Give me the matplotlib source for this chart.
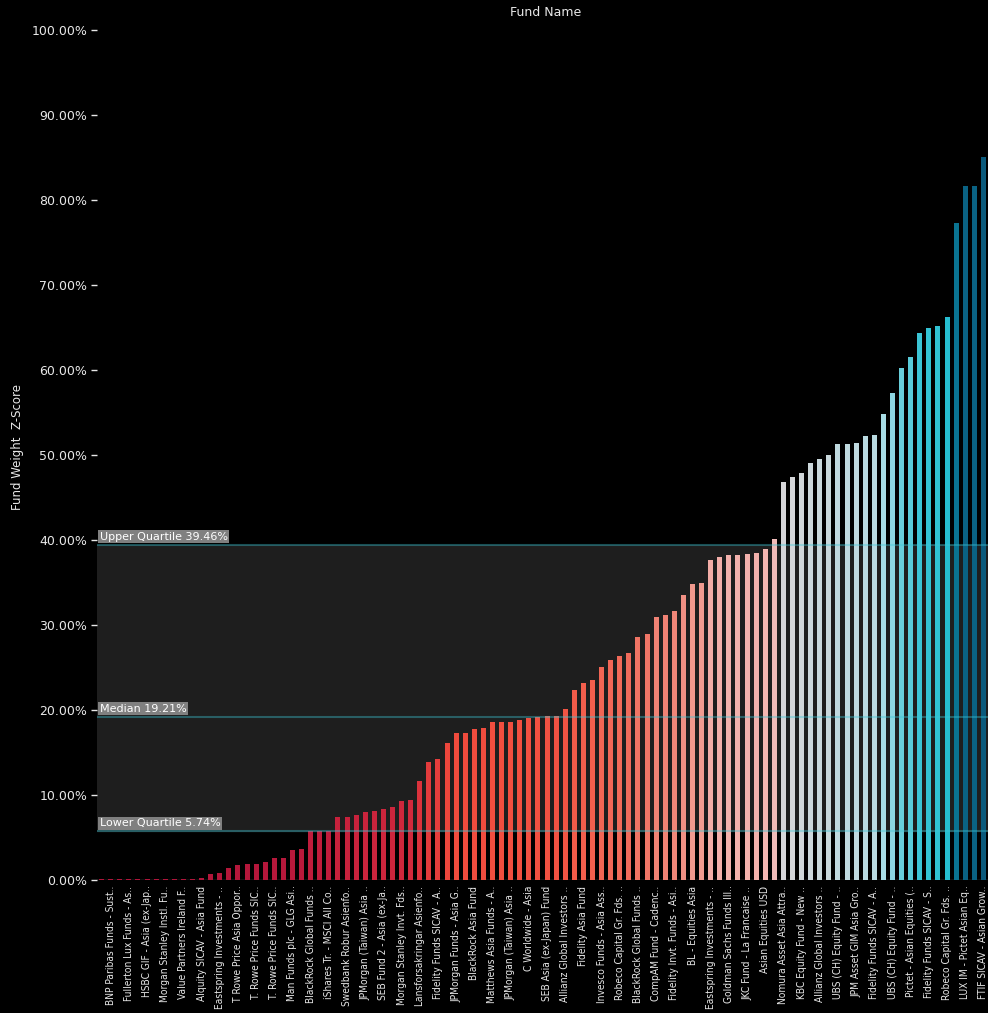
import numpy as np
import matplotlib
matplotlib.use("Agg")
import matplotlib.pyplot as plt
from matplotlib.colors import LinearSegmentedColormap
from matplotlib.ticker import FuncFormatter
import matplotlib.transforms as mtransforms

# fund weights (%) sorted ascending, 98 funds
weights = [
    0.12, 0.12, 0.12, 0.12, 0.12, 0.12, 0.12, 0.12, 0.12, 0.12,
    0.12, 0.27, 0.71, 0.86, 1.41, 1.76, 1.88, 1.88, 2.12, 2.59,
    2.59, 3.53, 3.65, 5.74, 5.74, 5.74, 7.41, 7.41, 7.65, 8.00,
    8.12, 8.35, 8.59, 9.29, 9.41, 11.65, 13.88, 14.24, 16.12, 17.30,
    17.30, 17.76, 17.88, 18.59, 18.59, 18.59, 18.82, 19.06, 19.13, 19.29,
    19.29, 20.12, 22.35, 23.18, 23.53, 25.06, 25.88, 26.35, 26.70, 28.59,
    28.94, 30.94, 31.18, 31.65, 33.53, 34.82, 34.94, 37.65, 38.00, 38.24,
    38.24, 38.35, 38.47, 38.94, 40.12, 46.82, 47.41, 47.88, 49.06, 49.53,
    50.00, 51.30, 51.30, 51.40, 52.20, 52.30, 54.80, 57.30, 60.20, 61.50,
    64.30, 64.90, 65.20, 66.20, 77.30, 81.60, 81.60, 85.00,
]

# only every other fund name is shown on the axis
fund_labels = [
    "BNP Paribas Funds - Sust..", "Fullerton Lux Funds - As..",
    "HSBC GIF - Asia (ex-Jap..", "Morgan Stanley Instl. Fu..",
    "Value Partners Ireland F..", "Alquity SICAV - Asia Fund",
    "Eastspring Investments - ..", "T Rowe Price Asia Oppor..",
    "T. Rowe Price Funds SIC..", "T. Rowe Price Funds SIC..",
    "Man Funds plc - GLG Asi..", "BlackRock Global Funds ..",
    "iShares Tr. - MSCI All Co..", "Swedbank Robur Asienfo..",
    "JPMorgan (Taiwan) Asia ..", "SEB Fund 2 - Asia (ex-Ja..",
    "Morgan Stanley Invt. Fds..", "Lansforsakringar Asienfo..",
    "Fidelity Funds SICAV - A..", "JPMorgan Funds - Asia G..",
    "BlackRock Asia Fund", "Matthews Asia Funds - A..",
    "JPMorgan (Taiwan) Asia ..", "C Worldwide - Asia",
    "SEB Asia (ex-Japan) Fund", "Allianz Global Investors ..",
    "Fidelity Asia Fund", "Invesco Funds - Asia Ass..",
    "Robeco Capital Gr. Fds. ..", "BlackRock Global Funds ..",
    "CompAM Fund - Cadenc..", "Fidelity Invt. Funds - Asi..",
    "BL - Equities Asia", "Eastspring Investments - ..",
    "Goldman Sachs Funds III..", "JKC Fund - La Francaise ..",
    "Asian Equities USD", "Nomura Asset Asia Attra..",
    "KBC Equity Fund - New ..", "Allianz Global Investors ..",
    "UBS (CH) Equity Fund - ..", "JPM Asset GIM Asia Gro..",
    "Fidelity Funds SICAV - A..", "UBS (CH) Equity Fund - ..",
    "Pictet - Asian Equities (..", "Fidelity Funds SICAV - S..",
    "Robeco Capital Gr. Fds. ..", "LUX IM - Pictet Asian Eq..",
    "FTIF SICAV - Asian Grow..",
]

quartiles = [("Lower Quartile", 5.74), ("Median", 19.21), ("Upper Quartile", 39.46)]

# colour ramp by weight
stops = [0, 6, 10, 17, 22, 28, 34, 39, 45, 50, 55, 60, 66, 72, 80, 85]
cols = ["#b0153a", "#c01c3c", "#d42b3c", "#f04a3c", "#f25a48", "#f07060",
        "#f09488", "#f4b6b2", "#ddd3d5", "#c8d8dc", "#a8dde6", "#6ccfdc",
        "#28c0d2", "#0a8ca6", "#0a6686", "#0b5a7c"]
cmap = LinearSegmentedColormap.from_list(
    "fund", list(zip(np.array(stops) / stops[-1], cols)))

txt = "#e8e8e8"
plt.rcParams["font.family"] = ["DejaVu Sans"]

fig = plt.figure(figsize=(9.88, 10.13), dpi=100, facecolor="black")
ax = fig.add_axes([97 / 988, 133 / 1013, 891 / 988, 850 / 1013])
ax.set_facecolor("black")

x = np.arange(len(weights))
w = np.array(weights)
colors = cmap(np.clip(w / stops[-1], 0, 1))

# interquartile band
ax.axhspan(quartiles[0][1], quartiles[2][1], color="#1e1e1e", zorder=0)
ax.axhline(0, color="#555555", lw=1, zorder=1)

ax.bar(x, w, width=0.55, color=colors, zorder=2)

trans = mtransforms.blended_transform_factory(ax.transAxes, ax.transData)
for name, q in quartiles:
    ax.axhline(q, color="#3cc8d8", alpha=0.38, lw=1.5, zorder=3)
    ax.text(0.003, q + 0.35, f"{name} {q:.2f}%", transform=trans,
            color="white", fontsize=8, va="bottom", ha="left", zorder=4,
            bbox=dict(boxstyle="square,pad=0.12", fc="#808080", ec="none"))

ax.set_xlim(-0.5, len(weights) - 0.5)
ax.set_ylim(0, 100)
ax.set_yticks(np.arange(0, 101, 10))
ax.yaxis.set_major_formatter(FuncFormatter(lambda v, p: f"{v:.2f}%"))
ax.tick_params(axis="y", colors=txt, labelsize=9, length=4, width=1, pad=3)

ax.set_xticks(x[1::2])
ax.set_xticklabels(fund_labels, rotation=90, fontsize=7.3, color=txt,
                   fontstretch="condensed")
ax.tick_params(axis="x", length=0, pad=4)

for s in ax.spines.values():
    s.set_visible(False)

ax.set_ylabel("Fund Weight  Z-Score", color=txt, fontsize=8.5)
ax.yaxis.set_label_coords(-0.082, 0.51)
fig.text(546 / 988, 1 - 12 / 1013, "Fund Name", color=txt, fontsize=9,
         ha="center", va="center")

fig.savefig("out.png", dpi=100, facecolor="black")
